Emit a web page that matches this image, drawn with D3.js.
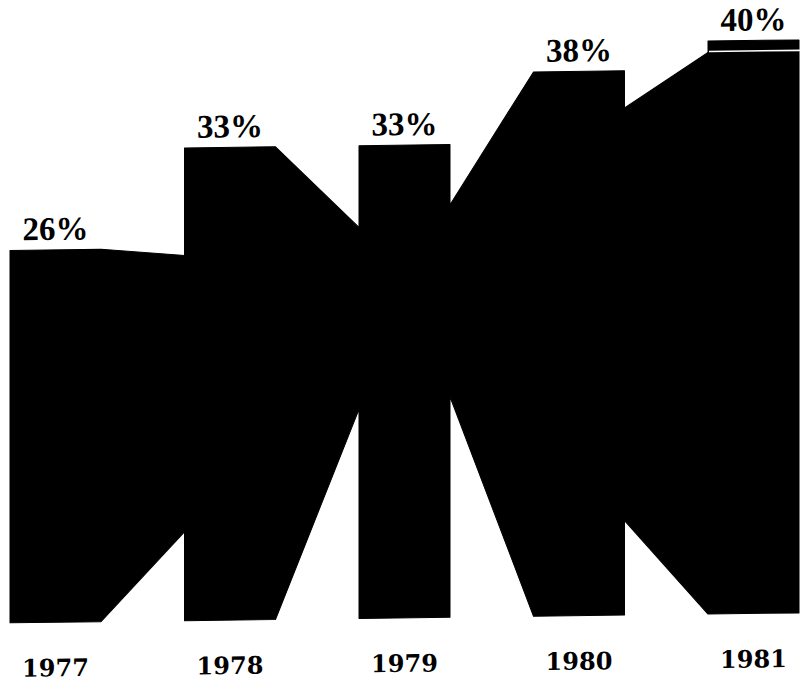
<!DOCTYPE html>
<html>
<head>
<meta charset="utf-8">
<script src="https://cdn.jsdelivr.net/npm/d3@7"></script>
<style>
  html, body { margin: 0; padding: 0; background: #fff; }
  svg { display: block; }
</style>
</head>
<body>
<svg id="chart" width="807" height="685"></svg>
<script>
// ---- data ----
const years = ["1977", "1978", "1979", "1980", "1981"];
const values = [26, 33, 33, 38, 40];                 // percent
const valueLabels = ["26%", "33%", "33%", "38%", "40%"];
// connecting bands between consecutive bars (percent levels)
const linkTopStart    = [26, 33, 28.8, 35.4];
const linkTopEnd      = [25.5, 27.3, 38, 39.2];
const linkBottomStart = [0, 0, 15.4, 6.6];
const linkBottomEnd   = [6.2, 14.6, 0, 0];

// ---- layout ----
const svg = d3.select("#chart");
const g = svg.append("g").attr("transform", "skewY(-0.725)");

const x = d3.scaleBand().domain(years).range([10, 799]).paddingInner(0.4785).paddingOuter(0);
const y = d3.scaleLinear().domain([0, 40]).range([623, 50]);
const bw = x.bandwidth();

// build single outline
const pts = [];
years.forEach((yr, i) => {
  const x0 = x(yr), x1 = x0 + bw;
  pts.push([x0, y(values[i])], [x1, y(values[i])]);
  if (i < years.length - 1) {
    const nx = x(years[i + 1]);
    pts.push([x1, y(linkTopStart[i])], [nx, y(linkTopEnd[i])]);
  }
});
for (let i = years.length - 1; i >= 0; i--) {
  const x0 = x(years[i]), x1 = x0 + bw;
  pts.push([x1, y(0)], [x0, y(0)]);
  if (i > 0) {
    const px1 = x(years[i - 1]) + bw;
    pts.push([x0, y(linkBottomEnd[i - 1])], [px1, y(linkBottomStart[i - 1])]);
  }
}

const line = d3.line().curve(d3.curveLinearClosed);
g.append("path")
  .attr("d", line(pts))
  .attr("fill", "#000")
  .attr("stroke", "#000")
  .attr("stroke-width", 1)
  .attr("stroke-linejoin", "round");

// thin white gap under the cap of the last bar
const last = years.length - 1;
g.append("line")
  .attr("x1", x(years[last]) + 1)
  .attr("x2", x(years[last]) + bw + 1)
  .attr("y1", y(linkTopEnd[last - 1]) - 1)
  .attr("y2", y(linkTopEnd[last - 1]) - 1)
  .attr("stroke", "#fff")
  .attr("stroke-width", 1.6);

// value labels
g.selectAll("text.val")
  .data(years)
  .join("text")
  .attr("class", "val")
  .attr("x", d => x(d) + bw / 2)
  .attr("y", (d, i) => y(values[i]) - 10)
  .attr("text-anchor", "middle")
  .attr("font-family", "Liberation Serif, serif")
  .attr("font-weight", "bold")
  .attr("font-size", 33)
  .attr("fill", "#000")
  .text((d, i) => valueLabels[i]);

// year labels
g.selectAll("text.year")
  .data(years)
  .join("text")
  .attr("class", "year")
  .attr("x", d => x(d) + bw / 2)
  .attr("y", y(0) + 54)
  .attr("text-anchor", "middle")
  .attr("font-family", "DejaVu Serif, serif")
  .attr("font-weight", "bold")
  .attr("font-size", 24)
  .attr("fill", "#000")
  .text(d => d);
</script>
</body>
</html>
